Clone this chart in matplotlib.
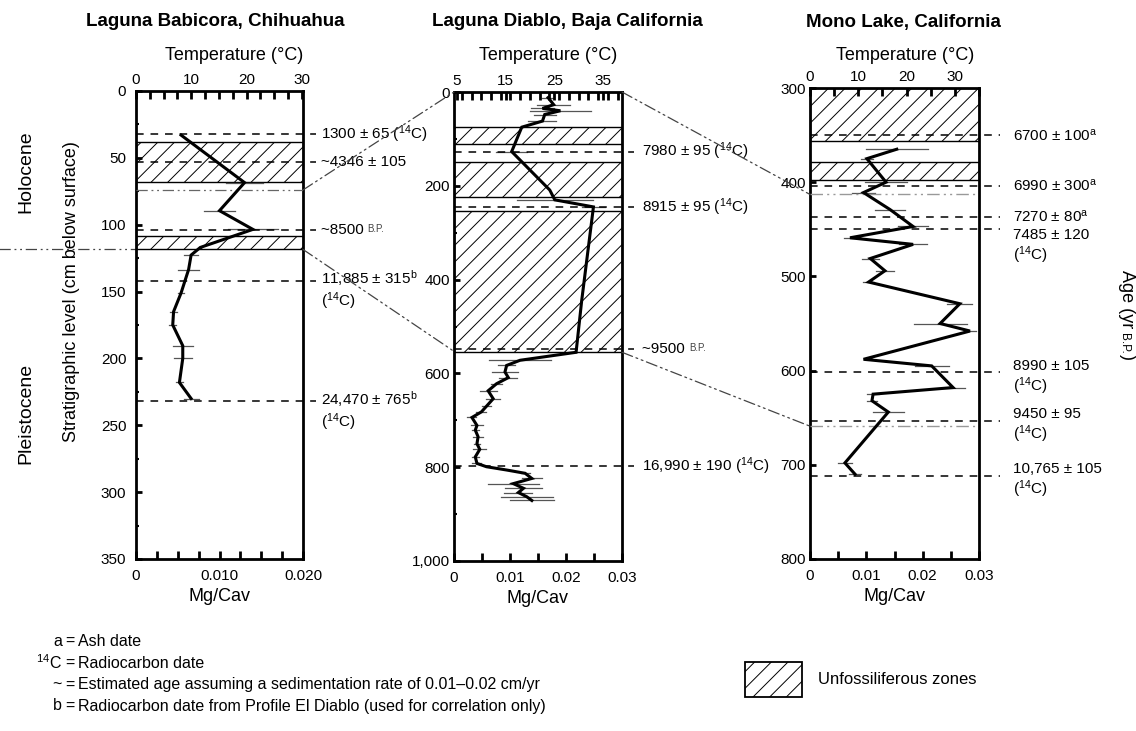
import matplotlib
matplotlib.use('Agg')
import numpy as np
import matplotlib.pyplot as plt
from matplotlib.patches import ConnectionPatch, Rectangle
from matplotlib.ticker import MultipleLocator

plt.rcParams['font.family'] = ['Liberation Sans', 'DejaVu Sans']
plt.rcParams['mathtext.fontset'] = 'custom'
plt.rcParams['mathtext.rm'] = 'Liberation Sans'
plt.rcParams['mathtext.it'] = 'Liberation Sans:italic'
plt.rcParams['mathtext.bf'] = 'Liberation Sans:bold'
plt.rcParams['hatch.linewidth'] = 0.7

# ---- data (depth in cm, Mg/Ca, half-width of error bar) ----
bab_depth = [33, 68.5, 89.5, 103.5, 117, 122.7, 133.5, 151, 165, 175, 190.5, 200, 218, 230]
bab_mgca = [0.0054, 0.0130, 0.0100, 0.0140, 0.0077, 0.0066, 0.0063, 0.0054, 0.0045, 0.0044,
            0.0056, 0.0056, 0.0052, 0.0066]
bab_err = [0, 0.0022, 0.0019, 0.0030, 0, 0.0008, 0.0013, 0.0004, 0.0004, 0.0004,
           0.0012, 0.0011, 0.0004, 0.0009]

dia_depth = [12, 27, 35, 40, 48, 62, 75, 127, 209, 230, 245, 445, 555, 572, 583, 597, 609, 622,
             637, 654, 670, 682, 694, 711, 721, 735, 750, 762, 778, 792, 799, 806, 813, 824,
             835, 845, 854, 863, 871]
dia_mgca = [0.0168, 0.0178, 0.0158, 0.0190, 0.0162, 0.0158, 0.0121, 0.0103, 0.0171, 0.0180,
            0.0249, 0.0228, 0.0218, 0.0118, 0.0094, 0.0091, 0.0097, 0.0076, 0.0061, 0.0070,
            0.0058, 0.0049, 0.0032, 0.0041, 0.0038, 0.0043, 0.0041, 0.0046, 0.0038, 0.0041,
            0.0058, 0.0094, 0.0127, 0.0139, 0.0106, 0.0124, 0.0115, 0.0130, 0.0139]
dia_err = [0.0010, 0.0030, 0.0020, 0.0055, 0.0020, 0.0025, 0, 0.0028, 0, 0.0068, 0.0020, 0, 0,
           0.0055, 0.0015, 0.0024, 0.0016, 0.0010, 0.0015, 0.0013, 0.0008, 0.0009, 0.0008,
           0.0010, 0.0006, 0.0009, 0.0006, 0.0012, 0.0006, 0.0008, 0, 0, 0.0008, 0.0018,
           0.0045, 0.0033, 0.0025, 0.0046, 0.0039]

mono_depth = [365, 375, 400, 411, 429, 447, 459, 466, 481, 494, 506, 529, 550, 558, 588, 595,
              618, 625, 632, 644, 698, 710]
mono_mgca = [0.0154, 0.0101, 0.0135, 0.0095, 0.0142, 0.0183, 0.0071, 0.0183, 0.0107, 0.0133,
             0.0104, 0.0266, 0.0231, 0.0284, 0.0095, 0.0216, 0.0254, 0.0112, 0.0110, 0.0139,
             0.0062, 0.0080]
mono_err = [0.0055, 0.0010, 0.0037, 0.0020, 0.0027, 0.0027, 0.0010, 0.0025, 0.0015, 0.0016,
            0.0010, 0.0022, 0.0047, 0.0010, 0, 0.0030, 0.0022, 0.0010, 0.0009, 0.0027,
            0.0013, 0.0010]

# unfossiliferous (hatched) zones
bab_zones = [(38, 68), (108.5, 118.5)]
dia_zones = [(74, 111), (150, 223), (253, 555)]
mono_zones = [(300, 356), (379, 398)]

# dated horizons: depth, label, kind ('one', 'bp' or vertical offset in points for two lines)
bab_dates = [(32, '1300 ± 65 ($^{14}$C)', 'one'),
             (53, '~4346 ± 105', 'one'),
             (104, '~8500 ', 'bp'),
             (142, '11,885 ± 315$^{\\mathrm{b}}$\n($^{14}$C)', 9),
             (232, '24,470 ± 765$^{\\mathrm{b}}$\n($^{14}$C)', 9)]
dia_dates = [(127, '7980 ± 95 ($^{14}$C)', 'one'),
             (246, '8915 ± 95 ($^{14}$C)', 'one'),
             (549, '~9500 ', 'bp'),
             (798, '16,990 ± 190 ($^{14}$C)', 'one')]
mono_dates = [(350, '6700 ± 100$^{\\mathrm{a}}$', 'one'),
              (404, '6990 ± 300$^{\\mathrm{a}}$', 'one'),
              (437, '7270 ± 80$^{\\mathrm{a}}$', 'one'),
              (450, '7485 ± 120\n($^{14}$C)', 1),
              (602, '8990 ± 105\n($^{14}$C)', 10),
              (653, '9450 ± 95\n($^{14}$C)', 10),
              (712, '10,765 ± 105\n($^{14}$C)', 10)]

W, H = 1136, 731
fig = plt.figure(figsize=(W / 100, H / 100), dpi=100)


def box(l, t, r, b):
    return [l / W, 1 - b / H, (r - l) / W, (b - t) / H]


def ftext(x, y, s, **kw):
    return fig.text(x / W, 1 - y / H, s, **kw)


DASHDOT = (0, (9, 3, 1.5, 3, 1.5, 3))


def make_panel(pos, ylim, yticks, ylabels, yminor, xlim, xmajor, xlabels, xminor,
               tlim, tmajor, tlabels, tminor, ypad):
    ax = fig.add_axes(box(*pos))
    ax.set_ylim(*ylim)
    ax.set_xlim(*xlim)
    ax.set_yticks(yticks, ylabels)
    if yminor:
        ax.yaxis.set_minor_locator(MultipleLocator(yminor))
    ax.set_xticks(xmajor, xlabels)
    ax.xaxis.set_minor_locator(MultipleLocator(xminor))
    for s in ax.spines.values():
        s.set_linewidth(2.0)
    ax.tick_params(axis='y', which='major', direction='in', width=2, length=4, labelsize=11, pad=ypad)
    ax.tick_params(axis='y', which='minor', direction='in', width=1.5, length=2.5)
    ax.tick_params(axis='x', which='both', direction='in', width=2, length=5.5, labelsize=11, pad=7)
    ax.set_xlabel('Mg/Cav', fontsize=13, labelpad=4)
    tw = ax.twiny()
    tw.set_xlim(*tlim)
    tw.set_xticks(tmajor, tlabels)
    tw.xaxis.set_minor_locator(MultipleLocator(tminor))
    tw.tick_params(axis='x', which='both', direction='in', width=2, length=5.5, labelsize=11, pad=3)
    for s in tw.spines.values():
        s.set_visible(False)
    return ax


def draw_series(ax, depth, mgca, err, zones, dates, xend, xtext):
    tr = ax.get_yaxis_transform()
    for d0, d1 in zones:
        ax.axhspan(d0, d1, facecolor='none', edgecolor='black', hatch='//', lw=1.0, zorder=1)
    for d, m, e in zip(depth, mgca, err):
        if e > 0:
            ax.plot([m - e, m + e], [d, d], color='#555555', lw=0.9, zorder=2)
    ax.plot(mgca, depth, color='black', lw=2.2, zorder=4, solid_joinstyle='miter')
    for d, label, kind in dates:
        ax.plot([0, xend], [d, d], transform=tr, color='black', lw=1.1, ls=(0, (5, 4.5)),
                clip_on=False, zorder=3)
        if kind in ('one', 'bp'):
            t = ax.text(xtext, d, label, transform=tr, va='center', ha='left', fontsize=11)
            if kind == 'bp':
                ax.annotate('B.P.', xy=(1, 0), xycoords=t, xytext=(0, 2.5),
                            textcoords='offset points', va='bottom', ha='left',
                            fontsize=7, color='#444444')
        else:
            ax.annotate(label, xy=(xtext, d), xycoords=tr, xytext=(0, kind),
                        textcoords='offset points', va='top', ha='left', fontsize=11,
                        linespacing=1.15, annotation_clip=False)


# ---- panel 1: Laguna Babicora ----
ax1 = make_panel((136, 91, 303, 559), (350, 0), np.arange(0, 351, 50),
                 [str(v) for v in range(0, 351, 50)], 25,
                 (0, 0.02), [0, 0.01, 0.02], ['0', '0.010', '0.020'], 0.0025,
                 (0, 30.2), [0, 10, 20, 30], ['0', '10', '20', '30'], 2.5, 7)
draw_series(ax1, bab_depth, bab_mgca, bab_err, bab_zones, bab_dates, 1.078, 1.105)

# ---- panel 2: Laguna Diablo ----
ax2 = make_panel((454, 92, 622, 561), (1000, 0), np.arange(0, 1001, 200),
                 ['0', '200', '400', '600', '800', '1,000'], 100,
                 (0, 0.03), [0, 0.01, 0.02, 0.03], ['0', '0.01', '0.02', '0.03'], 0.005,
                 (4.4, 38.9), [5, 15, 25, 35], ['5', '15', '25', '35'], 2, 3)
draw_series(ax2, dia_depth, dia_mgca, dia_err, dia_zones, dia_dates, 1.071, 1.12)

# ---- panel 3: Mono Lake ----
ax3 = make_panel((810, 88, 979, 559), (800, 300), np.arange(300, 801, 100),
                 [str(v) for v in range(300, 801, 100)], None,
                 (0, 0.03), [0, 0.01, 0.02, 0.03], ['0', '0.01', '0.02', '0.03'], 0.005,
                 (0, 35), [0, 10, 20, 30], ['0', '10', '20', '30'], 5, 3)
draw_series(ax3, mono_depth, mono_mgca, mono_err, mono_zones, mono_dates, 1.124, 1.2)

# ---- correlation lines ----
gray = '#666666'
ax1.plot([0, 1], [74, 74], transform=ax1.get_yaxis_transform(), color=gray, lw=0.9, ls=DASHDOT, zorder=3)
ax1.plot([-0.82, 0], [118.5, 118.5], transform=ax1.get_yaxis_transform(), color='#444444',
         lw=0.9, ls=DASHDOT, clip_on=False)
ax3.plot([0, 1], [413, 413], transform=ax3.get_yaxis_transform(), color='#999999', lw=1.0, ls=DASHDOT, zorder=3)
ax3.plot([0, 1], [659, 659], transform=ax3.get_yaxis_transform(), color='#999999', lw=1.0, ls=DASHDOT, zorder=3)

for axA, dA, axB, dB in [(ax1, 74, ax2, 0), (ax1, 118.5, ax2, 553),
                         (ax2, 0, ax3, 413), (ax2, 555, ax3, 659)]:
    con = ConnectionPatch(xyA=(1, dA), coordsA=axA.get_yaxis_transform(),
                          xyB=(0, dB), coordsB=axB.get_yaxis_transform(),
                          color='#444444', lw=0.9, ls=DASHDOT)
    fig.add_artist(con)

# ---- titles and axis labels ----
ftext(215, 22, 'Laguna Babicora, Chihuahua', fontsize=13.5, fontweight='bold', ha='center', va='center')
ftext(567, 22, 'Laguna Diablo, Baja California', fontsize=13.5, fontweight='bold', ha='center', va='center')
ftext(903, 22, 'Mono Lake, California', fontsize=13.5, fontweight='bold', ha='center', va='center')
for xc in (234, 548, 905):
    ftext(xc, 55, 'Temperature (°C)', fontsize=13, ha='center', va='center')

ftext(72, 292, 'Stratigraphic level (cm below surface)', fontsize=13, rotation=90, ha='center', va='center')
ftext(26, 172, 'Holocene', fontsize=14, rotation=90, ha='center', va='center')
ftext(26, 413, 'Pleistocene', fontsize=14, rotation=90, ha='center', va='center')

t_age = ftext(1127, 270, 'Age (yr ', fontsize=13, rotation=270, ha='center', va='top')
t_bp = plt.annotate('B.P.', xy=(0.35, 0), xycoords=t_age, va='top', ha='center',
                    rotation=270, fontsize=8.5)
plt.annotate(')', xy=(0.5, 0), xycoords=t_bp, va='top', ha='center', rotation=270, fontsize=13,
             xytext=(2, 0), textcoords='offset points')

# ---- key ----
key_syms = ['a', '$^{14}$C', '~', 'b']
key_y = [641, 663, 685, 706]
key_desc = ['Ash date', 'Radiocarbon date',
            'Estimated age assuming a sedimentation rate of 0.01–0.02 cm/yr',
            'Radiocarbon date from Profile El Diablo (used for correlation only)']
for sym, y, desc in zip(key_syms, key_y, key_desc):
    ftext(62, y, sym, fontsize=11.5, ha='right', va='center')
    ftext(70, y, '=', fontsize=11.5, ha='center', va='center')
    ftext(78, y, desc, fontsize=11.5, ha='left', va='center')

fig.add_artist(Rectangle((745 / W, 1 - 697 / H), 57 / W, 35 / H, transform=fig.transFigure,
                         facecolor='none', edgecolor='black', hatch='//', lw=1.3))
ftext(818, 679, 'Unfossiliferous zones', fontsize=12, ha='left', va='center')

fig.savefig('out.png', dpi=100)
